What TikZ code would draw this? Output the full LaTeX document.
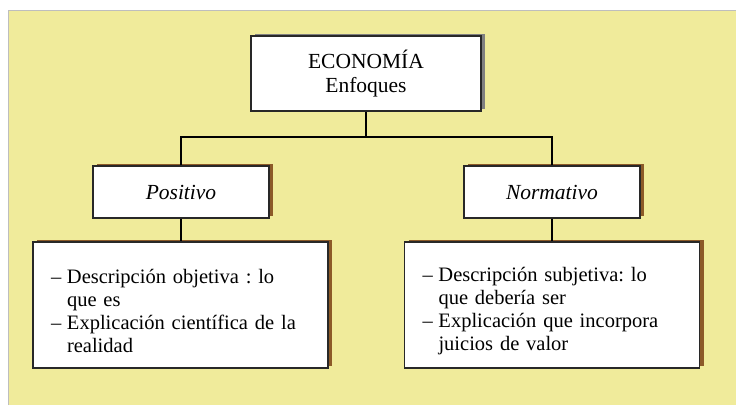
\documentclass[tikz,border=0pt]{standalone}
\usepackage{fontspec}
\setmainfont{Liberation Serif}
\usetikzlibrary{shadows}
\definecolor{bgyellow}{RGB}{240,235,155}
\definecolor{brownsh}{RGB}{140,90,40}
\definecolor{graysh}{RGB}{128,128,128}
\definecolor{edge}{RGB}{40,40,40}
\definecolor{frameline}{RGB}{190,190,190}
\frenchspacing
\tikzset{
  boxbase/.style={draw=edge, line width=1.3pt, fill=white, inner sep=0pt, align=center},
  topbox/.style={boxbase, minimum width=230pt, minimum height=75pt,
     font=\fontsize{21.5}{24}\selectfont,
     drop shadow={shadow xshift=4pt, shadow yshift=2pt, fill=graysh, opacity=1}},
  midbox/.style={boxbase, minimum width=176pt, minimum height=52pt,
     font=\fontsize{21.5}{24}\selectfont\itshape,
     drop shadow={shadow xshift=4pt, shadow yshift=2pt, fill=brownsh, opacity=1}},
  lowbox/.style={boxbase, minimum width=295pt, minimum height=126pt,
     text width=259pt, align=left, inner xsep=18pt, inner ysep=0pt,
     font=\fontsize{20.5}{23}\selectfont,
     drop shadow={shadow xshift=4pt, shadow yshift=2pt, fill=brownsh, opacity=1}},
  conn/.style={draw=black, line width=1.2pt}
}
\newcommand{\itemdash}{\makebox[16pt][l]{–}}
\newcommand{\itemind}{\hspace*{16pt}}
\newcommand{\topstrut}{\rule{0pt}{27pt}}
\begin{document}
\begin{tikzpicture}[x=1pt,y=1pt]
  \useasboundingbox (0,0) rectangle (736,405);
  \fill[white] (0,0) rectangle (736,405);
  \fill[bgyellow] (8,0) rectangle (736,394);
  \draw[frameline, line width=1pt] (8,0) -- (8,394) -- (736,394);

  \node[topbox] (top) at (366,331.5) {ECONOMÍA\\Enfoques};
  \node[midbox] (pos) at (181,213) {Positivo};
  \node[midbox] (nor) at (552,213) {Normativo};
  \node[lowbox] (lowl) at (180.5,100) {\topstrut\itemdash Descripción objetiva : lo\\\itemind que es\\\itemdash Explicación científica de la\\\itemind realidad};
  \node[lowbox] (lowr) at (552,100) {\topstrut\itemdash Descripción subjetiva: lo\\\itemind que debería ser\\\itemdash Explicación que incorpora\\\itemind juicios de valor};

  \coordinate (j) at (366,268);
  \draw[conn] (top.south) -- (j);
  \draw[conn] (pos.north) |- (j) -| (nor.north);
  \draw[conn] (pos.south) -- (pos.south |- lowl.north);
  \draw[conn] (nor.south) -- (nor.south |- lowr.north);
\end{tikzpicture}
\end{document}
